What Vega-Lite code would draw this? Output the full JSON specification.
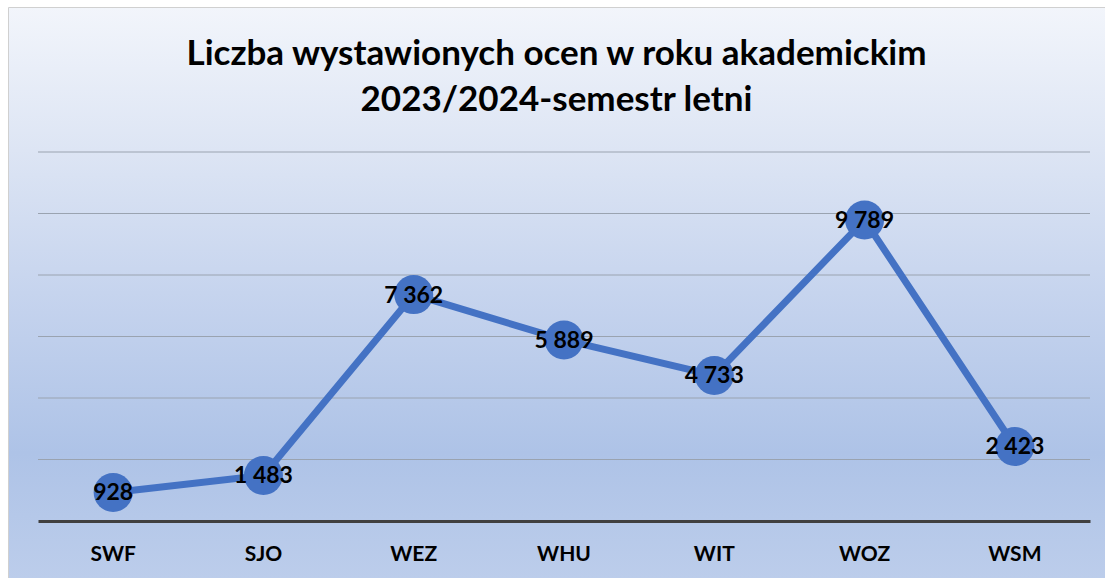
{
  "$schema": "https://vega.github.io/schema/vega-lite/v6.json",
  "width": 1097,
  "height": 571,
  "padding": {"left": 8, "top": 7, "right": 0, "bottom": 0},
  "background": "white",
  "view": {
    "stroke": "#d0d0d0",
    "strokeWidth": 1,
    "fill": {
      "gradient": "linear",
      "x1": 0, "y1": 0, "x2": 0, "y2": 1,
      "stops": [
        {"offset": 0, "color": "#f2f5fb"},
        {"offset": 0.25, "color": "#dde5f4"},
        {"offset": 0.5, "color": "#c6d4ee"},
        {"offset": 0.78, "color": "#aec3e7"},
        {"offset": 1, "color": "#bccdeb"}
      ]
    }
  },
  "config": {
    "locale": {"number": {"decimal": ",", "thousands": " ", "grouping": [3], "currency": ["", " zł"]}},
    "font": "Lato",
    "axisX": {
      "title": null,
      "labelAngle": 0,
      "labelAlign": "center",
      "labelFont": "Lato",
      "labelFontSize": 21,
      "labelFontWeight": "bold",
      "labelColor": "#000000",
      "labelPadding": 22,
      "ticks": false,
      "grid": false,
      "domainColor": "#404040",
      "domainWidth": 3,
      "offset": -57
    }
  },
  "title": {
    "text": ["Liczba wystawionych ocen w roku akademickim", "2023/2024-semestr letni"],
    "font": "Lato",
    "fontSize": 35,
    "fontWeight": "bold",
    "color": "#000000",
    "lineHeight": 46,
    "anchor": "middle",
    "offset": -111
  },
  "datasets": {
    "grid": [{"v": 2000}, {"v": 4000}, {"v": 6000}, {"v": 8000}, {"v": 10000}, {"v": 12000}],
    "main": [
      {"wydzial": "SWF", "oceny": 928},
      {"wydzial": "SJO", "oceny": 1483},
      {"wydzial": "WEZ", "oceny": 7362},
      {"wydzial": "WHU", "oceny": 5889},
      {"wydzial": "WIT", "oceny": 4733},
      {"wydzial": "WOZ", "oceny": 9789},
      {"wydzial": "WSM", "oceny": 2423}
    ]
  },
  "layer": [
    {
      "data": {"name": "grid"},
      "mark": {"type": "rule", "color": "#9aa3b0", "strokeWidth": 1},
      "encoding": {
        "y": {"field": "v", "type": "quantitative", "scale": {"domain": [0, 12000], "range": [514, 145]}, "axis": null},
        "x": {"datum": "SWF", "type": "nominal", "bandPosition": 0, "axis": {"labelAlign": "center", "title": null}},
        "x2": {"datum": "WSM", "bandPosition": 1}
      }
    },
    {
      "data": {"name": "main"},
      "encoding": {
        "x": {
          "field": "wydzial",
          "type": "nominal",
          "sort": ["SWF", "SJO", "WEZ", "WHU", "WIT", "WOZ", "WSM"],
          "scale": {"type": "band", "range": [30, 1082], "paddingInner": 0, "paddingOuter": 0},
          "axis": {"labelAlign": "center", "title": null}
        },
        "y": {"field": "oceny", "type": "quantitative", "scale": {"domain": [0, 12000], "range": [514, 145]}, "axis": null}
      },
      "layer": [
        {"mark": {"type": "line", "color": "#4472c4", "strokeWidth": 7}},
        {"mark": {"type": "point", "shape": "circle", "filled": true, "opacity": 1, "color": "#4472c4", "size": 1520}},
        {
          "mark": {"type": "text", "font": "Lato", "fontSize": 23, "fontWeight": "bold", "color": "#000000", "baseline": "middle", "align": "center", "dy": 1},
          "encoding": {"text": {"field": "oceny", "type": "quantitative", "format": ",d"}}
        }
      ]
    }
  ]
}
